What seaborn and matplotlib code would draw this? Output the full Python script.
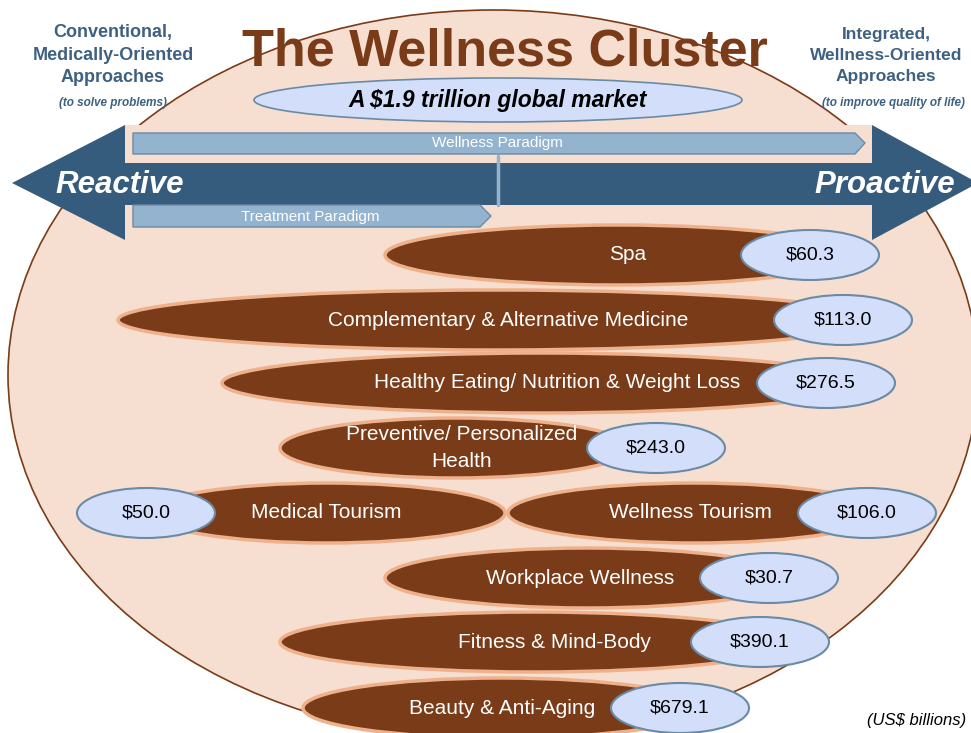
import numpy as np
import matplotlib.pyplot as plt
import seaborn as sns
from matplotlib.patches import Ellipse, Polygon, Rectangle

# ---- data ----
segments = ['Spa', 'Complementary & Alternative Medicine',
            'Healthy Eating/ Nutrition & Weight Loss',
            'Preventive/ Personalized\nHealth', 'Medical Tourism',
            'Wellness Tourism', 'Workplace Wellness',
            'Fitness & Mind-Body', 'Beauty & Anti-Aging']
values = [60.3, 113.0, 276.5, 243.0, 50.0, 106.0, 30.7, 390.1, 679.1]
total_label = 'A $1.9 trillion global market'
left_head = ['Conventional,', 'Medically-Oriented', 'Approaches']
right_head = ['Integrated,', 'Wellness-Oriented', 'Approaches']

# ---- layout (pixel coords) ----
seg_left = [385, 118, 222, 280, 150, 508, 385, 280, 303]
seg_right = [850, 875, 860, 630, 505, 880, 790, 790, 700]
seg_y = [255, 320, 383, 448, 513, 513, 578, 642, 708]
label_x = [628, 508, 557, 462, 326, 690, 580, 554, 502]
bubble_x = [810, 843, 826, 656, 146, 867, 769, 760, 680]

BROWN = '#7A3B18'
EDGE = '#EFB08C'
PEACH = '#F6DFD0'
NAVY = '#365C7D'
LIGHTBLUE = '#93B3CF'
BUBBLE = '#D3DFFA'
BUBBLE_EDGE = '#6A8AA6'
HEAD = '#3E6182'

sns.set_theme(style='white')
plt.rcParams['font.family'] = ['Liberation Sans', 'DejaVu Sans']

fig = plt.figure(figsize=(9.71, 7.33), dpi=100)
ax = fig.add_axes([0, 0, 1, 1])
ax.set_xlim(0, 971)
ax.set_ylim(733, 0)
ax.axis('off')

# big background oval
ax.add_patch(Ellipse((493, 375), 970, 730, facecolor=PEACH, edgecolor=BROWN, lw=1.2, zorder=1))
ax.add_patch(Rectangle((125, 125), 747, 115, facecolor=PEACH, edgecolor='none', zorder=1))

# double arrow
arrow = [(12, 183), (125, 125), (125, 163), (872, 163), (872, 125), (978, 183),
         (872, 240), (872, 205), (125, 205), (125, 240)]
ax.add_patch(Polygon(arrow, closed=True, facecolor=NAVY, edgecolor='none', zorder=2))
ax.text(55, 185, 'Reactive', color='white', fontsize=22.5, fontweight='bold', style='italic',
        ha='left', va='center', zorder=5)
ax.text(955, 185, 'Proactive', color='white', fontsize=22.5, fontweight='bold', style='italic',
        ha='right', va='center', zorder=5)

# paradigm bars
wellness_bar = [(133, 133), (855, 133), (865, 143), (855, 154), (133, 154)]
treatment_bar = [(133, 205), (480, 205), (491, 216), (480, 227), (133, 227)]
for bar in (wellness_bar, treatment_bar):
    ax.add_patch(Polygon(bar, closed=True, facecolor=LIGHTBLUE, edgecolor=BUBBLE_EDGE,
                         lw=1, zorder=3))
ax.plot([498, 498], [156, 205], color=LIGHTBLUE, lw=2.5, zorder=3)
ax.text(497, 143.5, 'Wellness Paradigm', color='white', fontsize=11, ha='center',
        va='center', zorder=5)
ax.text(310, 216.5, 'Treatment Paradigm', color='white', fontsize=11, ha='center',
        va='center', zorder=5)

# title and headers
ax.text(505, 52, 'The Wellness Cluster', color=BROWN, fontsize=37.5, fontweight='bold',
        ha='center', va='center', zorder=6)
ax.add_patch(Ellipse((498, 100), 488, 44, facecolor=BUBBLE, edgecolor=BUBBLE_EDGE, lw=1.2, zorder=4))
ax.text(498, 100, total_label, color='black', fontsize=16.5, fontweight='bold',
        style='italic', ha='center', va='center', zorder=6)

ax.text(113, 55, '\n'.join(left_head), color=HEAD, fontsize=13, fontweight='bold',
        ha='center', va='center', linespacing=1.45, zorder=6)
ax.text(113, 103, '(to solve problems)', color=HEAD, fontsize=8.5, fontweight='bold',
        style='italic', ha='center', va='center', zorder=6)
ax.text(886, 55, '\n'.join(right_head), color=HEAD, fontsize=12.5, fontweight='bold',
        ha='center', va='center', linespacing=1.5, zorder=6)
ax.text(893, 103, '(to improve quality of life)', color=HEAD, fontsize=8.5, fontweight='bold',
        style='italic', ha='center', va='center', zorder=6)

# segments
for i, name in enumerate(segments):
    w = seg_right[i] - seg_left[i]
    cx = (seg_left[i] + seg_right[i]) / 2
    ax.add_patch(Ellipse((cx, seg_y[i]), w, 60, facecolor=BROWN, edgecolor=EDGE,
                         lw=2.5, zorder=7 + i * 0.1))
    ax.text(label_x[i], seg_y[i], name, color='white', fontsize=15, ha='center',
            va='center', linespacing=1.5, zorder=9)
    ax.add_patch(Ellipse((bubble_x[i], seg_y[i]), 138, 50, facecolor=BUBBLE,
                         edgecolor=BUBBLE_EDGE, lw=1.5, zorder=8 + i * 0.1))
    ax.text(bubble_x[i], seg_y[i], f'${values[i]:.1f}', color='black', fontsize=14,
            ha='center', va='center', zorder=9)

ax.text(966, 720, '(US$ billions)', color='black', fontsize=12, style='italic',
        ha='right', va='center', zorder=9)

fig.savefig('out.png', dpi=100)
